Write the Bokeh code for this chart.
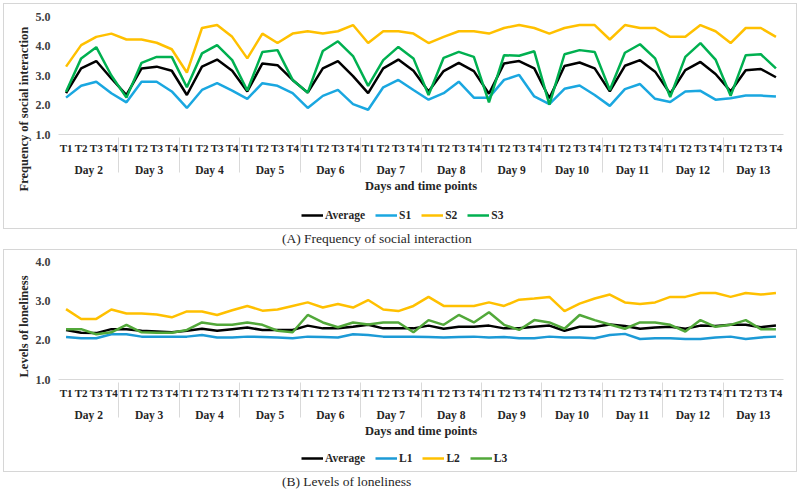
from bokeh.plotting import figure
from bokeh.models import FactorRange, Range1d, FixedTicker, NumeralTickFormatter, Legend, LegendItem, Div, Title
from bokeh.layouts import column
from bokeh.embed import file_html
from bokeh.resources import INLINE

days = ["Day 2", "Day 3", "Day 4", "Day 5", "Day 6", "Day 7", "Day 8", "Day 9", "Day 10", "Day 11", "Day 12", "Day 13"]
times = ["T1", "T2", "T3", "T4"]

# Panel A: frequency of social interaction
avg_a = [2.40, 3.24, 3.49, 2.90, 2.34, 3.24, 3.30, 3.16, 2.34, 3.30, 3.54, 3.16,
         2.46, 3.41, 3.35, 2.85, 2.42, 3.24, 3.49, 2.98, 2.40, 3.24, 3.54, 3.16,
         2.46, 3.15, 3.43, 3.15, 2.38, 3.41, 3.49, 3.24, 2.23, 3.32, 3.44, 3.24,
         2.46, 3.33, 3.52, 3.13, 2.38, 3.18, 3.46, 3.05, 2.46, 3.18, 3.22, 2.94]
s1 = [2.25, 2.65, 2.79, 2.40, 2.09, 2.79, 2.79, 2.46, 1.90, 2.51, 2.74, 2.49,
      2.21, 2.74, 2.65, 2.40, 1.90, 2.31, 2.51, 2.03, 1.84, 2.60, 2.85, 2.51,
      2.18, 2.40, 2.79, 2.25, 2.25, 2.85, 3.02, 2.29, 2.03, 2.55, 2.66, 2.34,
      1.97, 2.54, 2.71, 2.21, 2.10, 2.46, 2.48, 2.18, 2.23, 2.32, 2.32, 2.29]
s2 = [3.30, 4.03, 4.31, 4.42, 4.22, 4.22, 4.11, 3.89, 3.10, 4.61, 4.71, 4.31,
      3.58, 4.42, 4.10, 4.42, 4.50, 4.42, 4.50, 4.71, 4.10, 4.50, 4.50, 4.42,
      4.10, 4.31, 4.50, 4.50, 4.42, 4.61, 4.71, 4.61, 4.42, 4.61, 4.71, 4.71,
      4.22, 4.71, 4.61, 4.61, 4.31, 4.31, 4.71, 4.50, 4.10, 4.61, 4.61, 4.31]
s3 = [2.45, 3.58, 3.96, 3.00, 2.25, 3.43, 3.63, 3.63, 2.60, 3.75, 4.03, 3.52,
      2.49, 3.80, 3.86, 2.85, 2.42, 3.83, 4.16, 3.66, 2.65, 3.52, 3.97, 3.58,
      2.34, 3.60, 3.80, 3.63, 2.09, 3.69, 3.67, 3.82, 2.01, 3.72, 3.86, 3.80,
      2.51, 3.77, 4.06, 3.58, 2.27, 3.63, 4.10, 3.54, 2.31, 3.69, 3.72, 3.24]

# Panel B: levels of loneliness
avg_b = [2.26, 2.19, 2.18, 2.28, 2.28, 2.24, 2.22, 2.20, 2.24, 2.29, 2.24, 2.28,
         2.32, 2.26, 2.26, 2.26, 2.37, 2.30, 2.30, 2.34, 2.39, 2.30, 2.30, 2.30,
         2.37, 2.29, 2.34, 2.34, 2.37, 2.30, 2.30, 2.34, 2.37, 2.24, 2.34, 2.34,
         2.40, 2.36, 2.29, 2.32, 2.34, 2.29, 2.37, 2.36, 2.39, 2.39, 2.33, 2.37]
l1 = [2.08, 2.05, 2.05, 2.15, 2.15, 2.09, 2.09, 2.09, 2.09, 2.13, 2.07, 2.07,
      2.09, 2.08, 2.07, 2.05, 2.09, 2.08, 2.07, 2.15, 2.13, 2.09, 2.09, 2.09,
      2.08, 2.07, 2.08, 2.09, 2.07, 2.08, 2.05, 2.05, 2.09, 2.07, 2.07, 2.05,
      2.13, 2.16, 2.03, 2.05, 2.05, 2.03, 2.03, 2.07, 2.09, 2.03, 2.07, 2.09]
l2 = [2.79, 2.54, 2.54, 2.78, 2.68, 2.68, 2.65, 2.58, 2.73, 2.73, 2.64, 2.76,
      2.87, 2.75, 2.78, 2.87, 2.96, 2.83, 2.92, 2.83, 3.02, 2.78, 2.74, 2.87,
      3.10, 2.87, 2.87, 2.87, 2.96, 2.87, 3.03, 3.06, 3.10, 2.74, 2.93, 3.06,
      3.16, 2.96, 2.92, 2.96, 3.10, 3.10, 3.20, 3.20, 3.10, 3.20, 3.16, 3.20]
l3 = [2.28, 2.28, 2.15, 2.20, 2.39, 2.20, 2.19, 2.19, 2.26, 2.45, 2.39, 2.39,
      2.45, 2.39, 2.24, 2.20, 2.64, 2.45, 2.33, 2.45, 2.40, 2.45, 2.45, 2.20,
      2.51, 2.39, 2.64, 2.45, 2.71, 2.39, 2.26, 2.51, 2.45, 2.29, 2.64, 2.51,
      2.40, 2.29, 2.45, 2.45, 2.39, 2.22, 2.51, 2.34, 2.39, 2.51, 2.28, 2.28]

factors = [(d, t) for d in days for t in times]
FONT = "Liberation Serif"
GRID = "#d9d9d9"
TXT = "#262626"
W = 800


def make_panel(ylabel, title_offset, ymax, series, names, colors, top, leg_h):
    p = figure(x_range=FactorRange(*factors, group_padding=0, range_padding=0, factor_padding=0),
               y_range=Range1d(1, ymax), width=W, height=top + 119 + 60,
               min_border_left=58, min_border_right=17, min_border_top=top, min_border_bottom=60,
               output_backend="svg", toolbar_location=None)
    p.outline_line_color = None
    p.grid.visible = False
    p.border_fill_alpha = 0
    p.background_fill_alpha = 0

    for vals, col in zip(series, colors):
        p.line(x=factors, y=vals, line_color=col, line_width=2.5)

    ya = p.yaxis[0]
    ya.ticker = FixedTicker(ticks=list(range(1, ymax + 1)))
    ya.formatter = NumeralTickFormatter(format="0.0")
    ya.axis_line_color = None
    ya.major_tick_line_color = None
    ya.minor_tick_line_color = None
    ya.major_tick_out = 0
    ya.major_tick_in = 0
    ya.major_label_text_font = FONT
    ya.major_label_text_font_style = "bold"
    ya.major_label_text_font_size = "12px"
    ya.major_label_text_color = "#404040"
    ya.major_label_standoff = 8

    p.add_layout(Title(text=ylabel, align="left", offset=title_offset, standoff=4,
                       text_font=FONT, text_font_style="bold", text_font_size="12.5px",
                       text_color=TXT), "left")

    xa = p.xaxis[0]
    xa.axis_line_color = GRID
    xa.axis_line_width = 1
    xa.major_tick_line_color = None
    xa.major_tick_out = 0
    xa.major_label_standoff = 7
    xa.major_label_text_font = FONT
    xa.major_label_text_font_style = "bold"
    xa.major_label_text_font_size = "11px"
    xa.major_label_text_color = TXT
    xa.group_text_font = FONT
    xa.group_text_font_style = "bold"
    xa.group_text_font_size = "11.5px"
    xa.group_text_color = TXT
    xa.separator_line_color = GRID
    xa.separator_line_width = 1
    xa.axis_label = "Days and time points"
    xa.axis_label_text_font = FONT
    xa.axis_label_text_font_style = "bold"
    xa.axis_label_text_font_size = "12.5px"
    xa.axis_label_text_color = TXT
    xa.axis_label_standoff = 0

    # legend strip below the chart (series drawn outside its visible y-range)
    lf = figure(width=W, height=leg_h,
                x_range=FactorRange(*factors, group_padding=0, range_padding=0, factor_padding=0),
                y_range=Range1d(-2, -1),
                x_axis_type=None, y_axis_type=None, min_border=0,
                output_backend="svg", toolbar_location=None)
    lf.outline_line_color = None
    lf.grid.visible = False
    lf.border_fill_alpha = 0
    lf.background_fill_alpha = 0
    items = []
    for vals, name, col in zip(series, names, colors):
        r = lf.line(x=factors, y=vals, line_color=col, line_width=2.5)
        items.append(LegendItem(label=name, renderers=[r]))
    leg = Legend(items=items, orientation="horizontal", location=(243, 11),
                 border_line_color=None, background_fill_alpha=0,
                 label_text_font=FONT, label_text_font_style="bold",
                 label_text_font_size="11.5px", label_text_color=TXT,
                 glyph_width=22, glyph_height=12, label_standoff=2, spacing=10,
                 label_width=8, padding=0, margin=0)
    lf.add_layout(leg, "center")

    box = column(p, lf, spacing=0, width=W,
                 styles={"box-shadow": "inset 0 0 0 3px #ffffff, inset 0 0 0 4px #d6d6d6",
                         "background-color": "#ffffff"})
    return box


pa = make_panel("Frequency of social interaction", -57, 5, [avg_a, s1, s2, s3],
                ["Average", "S1", "S2", "S3"], ["#000000", "#1AA7E0", "#FFC000", "#00B050"], 16, 37)
pb = make_panel("Levels of  loneliness", 2, 4, [avg_b, l1, l2, l3],
                ["Average", "L1", "L2", "L3"], ["#000000", "#1C9AD6", "#FFC000", "#52A83A"], 15, 35)

cap_style = {"font-family": FONT, "font-size": "13.5px", "color": TXT, "padding-left": "282px",
             "line-height": "14px"}
cap_a = Div(text="(A) Frequency of social interaction", width=W, height=14, margin=0, styles=cap_style)
cap_b = Div(text="(B) Levels of loneliness", width=W, height=14, margin=0, styles=cap_style)

layout = column(pa, cap_a, pb, cap_b, spacing=0)
open("out.html", "w").write(file_html(layout, INLINE))
